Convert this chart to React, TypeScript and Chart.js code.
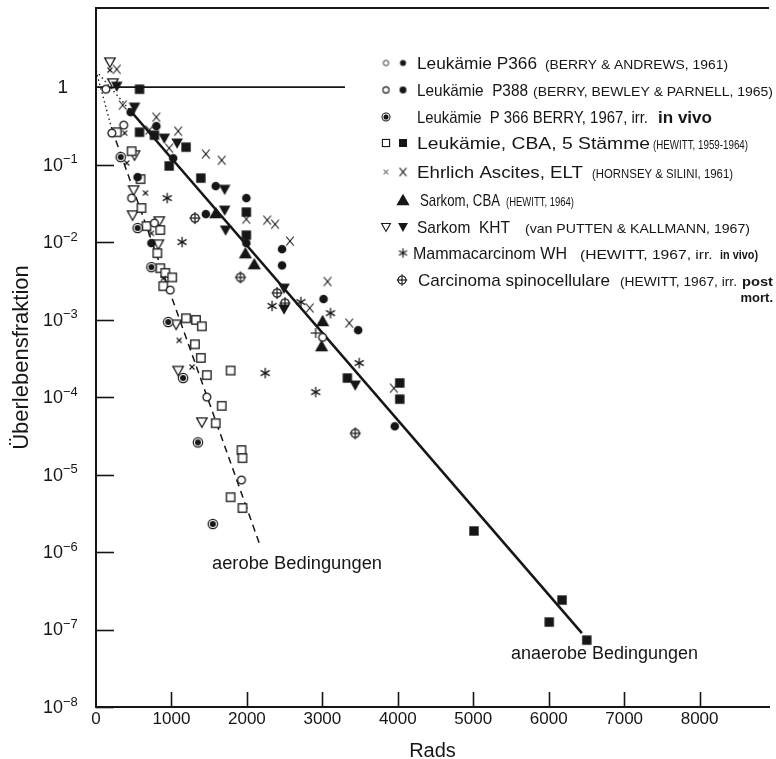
import React, { useEffect, useRef } from "react";
import { Chart, registerables } from "chart.js";

Chart.register(...registerables);

type Pt = { x: number; y: number };
const INK = "#161616";
const FONT = '"Liberation Sans", "DejaVu Sans", Arial, sans-serif';

// ---------------- data ----------------
const OPEN_CIRCLES: Pt[] = [
  { x: 131, y: 0.94 }, { x: 210, y: 0.255 }, { x: 367, y: 0.323 }, { x: 472, y: 0.037 },
  { x: 774, y: 0.0176 }, { x: 984, y: 0.0024 }, { x: 1469, y: 1.0e-4 }, { x: 1928, y: 8.5e-6 },
  { x: 3003, y: 5.9e-4 },
];
const FILLED_CIRCLES: Pt[] = [
  { x: 459, y: 0.475 }, { x: 800, y: 0.314 }, { x: 1023, y: 0.121 }, { x: 551, y: 0.069 },
  { x: 1587, y: 0.0528 }, { x: 1993, y: 0.037 }, { x: 1456, y: 0.023 }, { x: 734, y: 0.0097 },
  { x: 1993, y: 0.0097 }, { x: 2466, y: 0.0081 }, { x: 2466, y: 0.005 }, { x: 3016, y: 0.00184 },
  { x: 3475, y: 0.00073 }, { x: 3960, y: 4.2e-5 },
];
const DOT_CIRCLES: Pt[] = [
  { x: 328, y: 0.125 }, { x: 551, y: 0.0152 }, { x: 734, y: 0.00475 }, { x: 957, y: 9.3e-4 },
  { x: 1154, y: 1.76e-4 }, { x: 1351, y: 2.6e-5 }, { x: 1548, y: 2.3e-6 },
];
const OPEN_SQUARES: Pt[] = [
  { x: 275, y: 0.262 }, { x: 472, y: 0.149 }, { x: 590, y: 0.065 }, { x: 603, y: 0.0275 },
  { x: 669, y: 0.0161 }, { x: 852, y: 0.0143 }, { x: 813, y: 0.0072 }, { x: 852, y: 0.0046 },
  { x: 918, y: 0.004 }, { x: 1010, y: 0.0035 }, { x: 892, y: 0.0027 }, { x: 1193, y: 1.04e-3 },
  { x: 1325, y: 9.9e-4 }, { x: 1403, y: 8.2e-4 }, { x: 1311, y: 4.8e-4 }, { x: 1390, y: 3.2e-4 },
  { x: 1469, y: 1.92e-4 }, { x: 1784, y: 2.2e-4 }, { x: 1666, y: 7.7e-5 }, { x: 1587, y: 4.6e-5 },
  { x: 1928, y: 2.07e-5 }, { x: 1941, y: 1.63e-5 }, { x: 1784, y: 5.1e-6 }, { x: 1941, y: 3.7e-6 },
];
const FILLED_SQUARES: Pt[] = [
  { x: 577, y: 0.94 }, { x: 577, y: 0.262 }, { x: 774, y: 0.24 }, { x: 1193, y: 0.168 },
  { x: 970, y: 0.096 }, { x: 1390, y: 0.067 }, { x: 1993, y: 0.0244 }, { x: 1993, y: 0.0123 },
  { x: 3331, y: 1.76e-4 }, { x: 4026, y: 1.52e-4 }, { x: 4026, y: 9.4e-5 }, { x: 5010, y: 1.87e-6 },
  { x: 6177, y: 2.4e-7 }, { x: 6007, y: 1.25e-7 }, { x: 6505, y: 7.3e-8 },
];
const SMALL_X: Pt[] = [
  { x: 184, y: 1.66 }, { x: 380, y: 0.255 }, { x: 407, y: 0.105 }, { x: 656, y: 0.043 },
  { x: 734, y: 0.013 }, { x: 892, y: 0.0034 }, { x: 1102, y: 5.4e-4 }, { x: 1272, y: 2.44e-4 },
];
const BIG_X: Pt[] = [
  { x: 275, y: 1.7 }, { x: 354, y: 0.586 }, { x: 800, y: 0.41 }, { x: 708, y: 0.279 },
  { x: 1089, y: 0.27 }, { x: 970, y: 0.163 }, { x: 1456, y: 0.137 }, { x: 1666, y: 0.114 },
  { x: 1993, y: 0.0198 }, { x: 2269, y: 0.0192 }, { x: 2374, y: 0.017 }, { x: 2571, y: 0.0103 },
  { x: 3069, y: 0.0031 }, { x: 2833, y: 0.00141 }, { x: 3357, y: 9.0e-4 }, { x: 3948, y: 1.3e-4 },
];
const TRI_UP: Pt[] = [
  { x: 1587, y: 0.0237 }, { x: 1980, y: 0.0072 }, { x: 2098, y: 0.0052 }, { x: 3003, y: 9.6e-4 },
  { x: 2990, y: 4.55e-4 },
];
const TRI_DOWN_OPEN: Pt[] = [
  { x: 184, y: 2.1 }, { x: 223, y: 1.13 }, { x: 511, y: 0.133 }, { x: 498, y: 0.047 },
  { x: 485, y: 0.0223 }, { x: 839, y: 0.0187 }, { x: 826, y: 0.0094 }, { x: 1062, y: 8.7e-4 },
  { x: 1089, y: 2.2e-4 }, { x: 1403, y: 4.75e-5 },
];
const TRI_DOWN_FILLED: Pt[] = [
  { x: 275, y: 1.03 }, { x: 511, y: 0.552 }, { x: 905, y: 0.22 }, { x: 1075, y: 0.19 },
  { x: 1705, y: 0.048 }, { x: 1705, y: 0.0259 }, { x: 1718, y: 0.0143 }, { x: 2492, y: 0.00255 },
  { x: 2492, y: 0.00137 }, { x: 3436, y: 1.43e-4 },
];
const ASTERISKS: Pt[] = [
  { x: 944, y: 0.037 }, { x: 1141, y: 0.01 }, { x: 2334, y: 0.0015 }, { x: 2715, y: 0.00168 },
  { x: 3108, y: 0.00121 }, { x: 3489, y: 2.75e-4 }, { x: 2243, y: 2.04e-4 }, { x: 2911, y: 1.16e-4 },
];
const CROSS_CIRCLES: Pt[] = [
  { x: 1311, y: 0.0204 }, { x: 1915, y: 0.0035 }, { x: 2400, y: 0.0022 }, { x: 2505, y: 0.00163 },
  { x: 3436, y: 3.4e-5 },
];
const PLUS: Pt[] = [{ x: 2911, y: 6.7e-4 }];

const AEROBE_DOTTED: Pt[] = [{ x: 0, y: 1.63 }, { x: 210, y: 0.287 }];
const AEROBE_DASHED: Pt[] = [{ x: 210, y: 0.287 }, { x: 2164, y: 1.3e-6 }];
const ANAEROBE_DOTTED: Pt[] = [{ x: 0, y: 1.63 }, { x: 485, y: 0.46 }];
const ANAEROBE_SOLID: Pt[] = [{ x: 485, y: 0.46 }, { x: 6440, y: 9e-8 }];
const UNITY_LINE: Pt[] = [{ x: 0, y: 1 }, { x: 3300, y: 1 }];

const X_TICKS = [0, 1000, 2000, 3000, 4000, 5000, 6000, 7000, 8000];
const Y_TICKS = [1, 1e-1, 1e-2, 1e-3, 1e-4, 1e-5, 1e-6, 1e-7, 1e-8];
const Y_TICK_BASE = ["1", "10", "10", "10", "10", "10", "10", "10", "10"];
const Y_TICK_EXP = ["", "−1", "−2", "−3", "−4", "−5", "−6", "−7", "−8"];

const X_TITLE = "Rads";
const Y_TITLE = "Überlebensfraktion";
const AEROBE_LABEL = "aerobe Bedingungen";
const ANAEROBE_LABEL = "anaerobe Bedingungen";

const LEGEND_MARKERS = [
  ["oc", "fc"], ["oc", "fc"], ["dc"], ["os", "fs"], ["sx", "bx"], ["tu"], ["tdo", "tdf"], ["ast"], ["cc"],
];
const LEGEND_MAIN = [
  "Leukämie P366", "Leukämie  P388", "Leukämie  P 366 BERRY, 1967, irr.", "Leukämie, CBA, 5 Stämme",
  "Ehrlich Ascites, ELT", "Sarkom, CBA", "Sarkom  KHT", "Mammacarcinom WH", "Carcinoma spinocellulare",
];
const LEGEND_REF = [
  "(BERRY & ANDREWS, 1961)", "(BERRY, BEWLEY & PARNELL, 1965)", "", "(HEWITT, 1959-1964)",
  "(HORNSEY & SILINI, 1961)", "(HEWITT, 1964)", "(van PUTTEN & KALLMANN, 1967)", "(HEWITT, 1967, irr.",
  "(HEWITT, 1967, irr.",
];
const LEGEND_BOLD = ["", "", "in vivo", "", "", "", "", "in vivo)", "post"];
const LEGEND_LAST_LINE = "mort.";

// ---------------- layout (positions only) ----------------
const LEG_LAYOUT = [
  { y: 63, mk: [386, 403], ms: 0.7, main: [417, 537], ref: [545, 728], bold: null as null | number[], bigBold: false },
  { y: 90, mk: [386, 403], ms: 0.8, main: [417, 528], ref: [533, 773], bold: null, bigBold: false },
  { y: 117, mk: [386], ms: 0.85, main: [417, 648], ref: null as null | number[], bold: [658, 712], bigBold: true },
  { y: 143, mk: [386, 403], ms: 0.85, main: [417, 650], ref: [653, 748], bold: null, bigBold: false },
  { y: 172, mk: [386, 403], ms: 0.9, main: [417, 583], ref: [592, 733], bold: null, bigBold: false },
  { y: 200, mk: [403], ms: 1, main: [420, 500], ref: [506, 574], bold: null, bigBold: false },
  { y: 227, mk: [386, 403], ms: 0.85, main: [417, 510], ref: [525, 750], bold: null, bigBold: false },
  { y: 253, mk: [403], ms: 0.9, main: [413, 567], ref: [580, 715], bold: [720, 758], bigBold: false },
  { y: 280, mk: [402], ms: 0.95, main: [418, 610], ref: [620, 737], bold: [742, 773], bigBold: false },
];

function makeMarker(kind: string, scale = 1): HTMLCanvasElement {
  const S = Math.ceil(18 * scale) + 2;
  const c = document.createElement("canvas");
  c.width = S;
  c.height = S;
  const g = c.getContext("2d")!;
  g.translate(S / 2, S / 2);
  g.scale(scale, scale);
  g.strokeStyle = INK;
  g.fillStyle = INK;
  g.lineWidth = 1.3;
  g.lineCap = "butt";
  const circle = (r: number) => { g.beginPath(); g.arc(0, 0, r, 0, Math.PI * 2); };
  const seg = (x1: number, y1: number, x2: number, y2: number) => {
    g.beginPath(); g.moveTo(x1, y1); g.lineTo(x2, y2); g.stroke();
  };
  switch (kind) {
    case "oc":
      circle(3.9); g.fillStyle = "#fff"; g.fill(); g.stroke(); break;
    case "fc":
      circle(4.3); g.fill(); break;
    case "dc":
      circle(4.7); g.fillStyle = "#fff"; g.fill(); g.lineWidth = 1.2; g.stroke();
      g.fillStyle = INK; circle(3.0); g.fill(); break;
    case "os":
      g.fillStyle = "#fff"; g.fillRect(-4.2, -4.2, 8.4, 8.4); g.strokeRect(-4.2, -4.2, 8.4, 8.4); break;
    case "fs":
      g.fillRect(-4.7, -4.7, 9.4, 9.4); break;
    case "sx":
      g.lineWidth = 1.1; seg(-2.5, -2.5, 2.5, 2.5); seg(-2.5, 2.5, 2.5, -2.5); break;
    case "bx":
      g.lineWidth = 1.15; seg(-3.8, -4.5, 3.8, 4.5); seg(-3.8, 4.5, 3.8, -4.5); break;
    case "tu":
      g.beginPath(); g.moveTo(0, -6.3); g.lineTo(6.6, 5.2); g.lineTo(-6.6, 5.2); g.closePath(); g.fill(); break;
    case "tdo":
      g.beginPath(); g.moveTo(-5.2, -4.2); g.lineTo(5.2, -4.2); g.lineTo(0, 5.2); g.closePath();
      g.fillStyle = "#fff"; g.fill(); g.stroke(); break;
    case "tdf":
      g.beginPath(); g.moveTo(-5.8, -4.6); g.lineTo(5.8, -4.6); g.lineTo(0, 5.8); g.closePath(); g.fill(); break;
    case "ast": {
      g.lineWidth = 1.3;
      [90, 30, 150].forEach((a) => {
        const r = 5.2, t = (a * Math.PI) / 180;
        seg(-r * Math.cos(t), -r * Math.sin(t), r * Math.cos(t), r * Math.sin(t));
      });
      break;
    }
    case "cc":
      circle(4.2); g.fillStyle = "#fff"; g.fill(); g.lineWidth = 1.2; g.stroke();
      seg(0, -6, 0, 6); seg(-5.5, 0, 5.5, 0); break;
    case "pl":
      g.lineWidth = 1.2; seg(0, -5, 0, 5); seg(-5, 0, 5, 0); break;
  }
  return c;
}

function drawFit(ctx: CanvasRenderingContext2D, text: string, x0: number, x1: number, base: number) {
  if (!text) return;
  const w = ctx.measureText(text).width;
  const s = Math.max(0.65, Math.min(1.2, (x1 - x0) / w));
  ctx.save();
  ctx.translate(x0, base);
  ctx.scale(s, 1);
  ctx.fillText(text, 0, 0);
  ctx.restore();
}

const overlay = {
  id: "overlay",
  afterDraw(chart: any) {
    const { ctx, chartArea, scales } = chart;
    const { left, right, top, bottom } = chartArea;
    const xs = scales.x, ys = scales.y;
    ctx.save();
    ctx.strokeStyle = INK;
    ctx.fillStyle = INK;
    // top frame line
    ctx.lineWidth = 2;
    ctx.beginPath(); ctx.moveTo(left - 1, top); ctx.lineTo(right, top); ctx.stroke();
    // inward ticks
    ctx.lineWidth = 1.6;
    Y_TICKS.forEach((v) => {
      if (v === 1) return;
      const py = Math.round(ys.getPixelForValue(v)) + 0.5;
      ctx.beginPath(); ctx.moveTo(left, py); ctx.lineTo(left + 18, py); ctx.stroke();
    });
    X_TICKS.forEach((v) => {
      if (v === 0) return;
      const px = Math.round(xs.getPixelForValue(v)) + 0.5;
      ctx.beginPath(); ctx.moveTo(px, bottom); ctx.lineTo(px, bottom - 15); ctx.stroke();
    });
    // y tick labels with superscripts
    ctx.textBaseline = "middle";
    Y_TICKS.forEach((v, i) => {
      const py = ys.getPixelForValue(v);
      if (!Y_TICK_EXP[i]) {
        ctx.font = `19px ${FONT}`;
        ctx.textAlign = "right";
        ctx.fillText(Y_TICK_BASE[i], 68, py + 1);
      } else {
        ctx.font = `18px ${FONT}`;
        ctx.textAlign = "right";
        ctx.fillText(Y_TICK_BASE[i], 63, py + 1);
        ctx.font = `13px ${FONT}`;
        ctx.textAlign = "left";
        ctx.fillText(Y_TICK_EXP[i], 63, py - 5);
      }
    });
    // curve labels
    ctx.textAlign = "left";
    ctx.textBaseline = "alphabetic";
    ctx.font = `18px ${FONT}`;
    drawFit(ctx, AEROBE_LABEL, 212, 382, 569);
    drawFit(ctx, ANAEROBE_LABEL, 511, 698, 659);
    // legend
    LEG_LAYOUT.forEach((L, i) => {
      LEGEND_MARKERS[i].forEach((k, j) => {
        const m = makeMarker(k, L.ms);
        ctx.drawImage(m, L.mk[j] - m.width / 2, L.y - m.height / 2);
      });
      const base = L.y + 6;
      ctx.font = `17px ${FONT}`;
      drawFit(ctx, LEGEND_MAIN[i], L.main[0], L.main[1], base);
      if (L.ref && LEGEND_REF[i]) {
        ctx.font = `13px ${FONT}`;
        drawFit(ctx, LEGEND_REF[i], L.ref[0], L.ref[1], base);
      }
      if (L.bold && LEGEND_BOLD[i]) {
        ctx.font = L.bigBold ? `bold 17px ${FONT}` : `bold 13px ${FONT}`;
        drawFit(ctx, LEGEND_BOLD[i], L.bold[0], L.bold[1], base);
      }
    });
    ctx.font = `bold 13px ${FONT}`;
    ctx.textAlign = "right";
    ctx.fillText(LEGEND_LAST_LINE, 773, 302);
    ctx.restore();
  },
};

export default function App() {
  const ref = useRef<HTMLCanvasElement | null>(null);
  useEffect(() => {
    document.body.style.margin = "0";
    const canvas = ref.current!;
    const pts = (data: Pt[], kind: string) => ({
      data,
      showLine: false,
      pointStyle: makeMarker(kind),
      pointRadius: 6,
      pointHoverRadius: 6,
    });
    const line = (data: Pt[], dash: number[], width: number) => ({
      data,
      showLine: true,
      borderColor: INK,
      borderWidth: width,
      borderDash: dash,
      pointRadius: 0,
      pointHoverRadius: 0,
      fill: false,
    });
    const chart = new Chart(canvas, {
      type: "scatter",
      data: {
        datasets: [
          pts(FILLED_SQUARES, "fs"),
          pts(FILLED_CIRCLES, "fc"),
          pts(TRI_UP, "tu"),
          pts(TRI_DOWN_FILLED, "tdf"),
          pts(BIG_X, "bx"),
          pts(SMALL_X, "sx"),
          pts(ASTERISKS, "ast"),
          pts(PLUS, "pl"),
          pts(DOT_CIRCLES, "dc"),
          pts(OPEN_CIRCLES, "oc"),
          pts(OPEN_SQUARES, "os"),
          pts(TRI_DOWN_OPEN, "tdo"),
          pts(CROSS_CIRCLES, "cc"),
          line(ANAEROBE_SOLID, [], 2.6),
          line(AEROBE_DASHED, [7, 5], 1.5),
          line(AEROBE_DOTTED, [1.5, 3], 1.3),
          line(ANAEROBE_DOTTED, [1.5, 3], 1.3),
          line(UNITY_LINE, [], 1.6),
        ] as any,
      },
      options: {
        animation: false,
        responsive: false,
        devicePixelRatio: 1,
        events: [],
        layout: { padding: { top: 8, left: 0, right: 0, bottom: 0 } },
        plugins: { legend: { display: false }, tooltip: { enabled: false } },
        scales: {
          x: {
            type: "linear",
            min: 0,
            max: 8920,
            grid: { display: false, drawTicks: false },
            border: { display: true, color: INK, width: 2 },
            ticks: {
              color: INK,
              font: { family: FONT, size: 17 },
              padding: 2,
              autoSkip: false,
              maxRotation: 0,
              callback: (v: any) => String(v),
            },
            afterBuildTicks: (s: any) => { s.ticks = X_TICKS.map((v) => ({ value: v })); },
            afterFit: (s: any) => { s.height = 52; },
            title: {
              display: true,
              text: X_TITLE,
              color: INK,
              font: { family: FONT, size: 20, lineHeight: 0.8 },
              padding: 0,
            },
          },
          y: {
            type: "logarithmic",
            min: 1e-8,
            max: 10.5,
            grid: { display: false, drawTicks: false },
            border: { display: true, color: INK, width: 2 },
            ticks: { display: false },
            afterBuildTicks: (s: any) => { s.ticks = Y_TICKS.map((v) => ({ value: v })); },
            afterFit: (s: any) => { s.width = 96; },
            title: {
              display: true,
              text: Y_TITLE,
              color: INK,
              font: { family: FONT, size: 22 },
              padding: { top: 9, bottom: 0 },
            },
          },
        },
      } as any,
      plugins: [overlay],
    });
    return () => chart.destroy();
  }, []);
  return <canvas ref={ref} width={776} height={759} style={{ display: "block" }} />;
}
